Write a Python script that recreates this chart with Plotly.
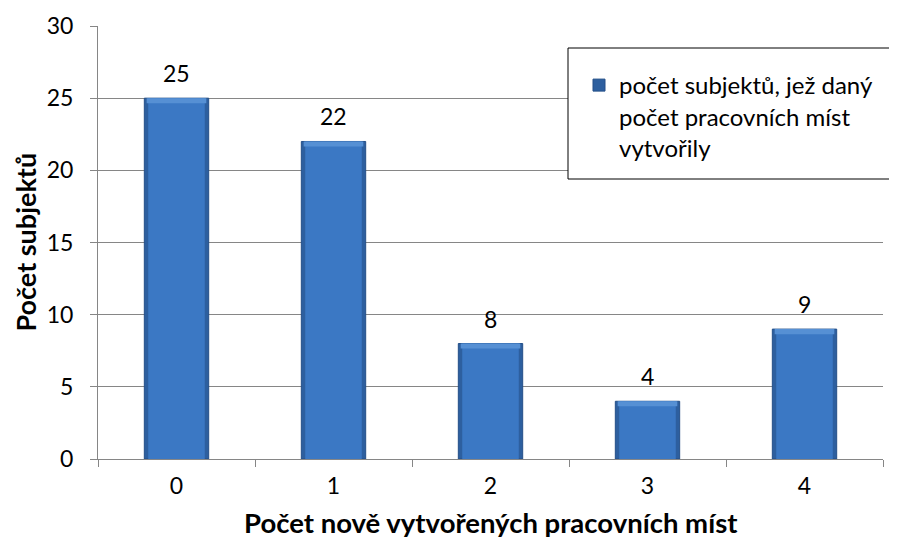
import plotly.graph_objects as go

categories = ["0", "1", "2", "3", "4"]
values = [25, 22, 8, 4, 9]
series_name = "počet subjektů, jež daný<br>počet pracovních míst<br>vytvořily"
y_ticks = [0, 5, 10, 15, 20, 25, 30]
x_title = "Počet nově vytvořených pracovních míst"
y_title = "Počet subjektů"

FONT = "Lato"
W, H = 889, 534
L, R, T, B = 90, 14, 18, 83
PW, PH = W - L - R, H - T - B

def px(x):  # page x -> paper
    return (x - 8 - L) / PW

def py(y):  # page y -> paper
    return (H - B - (y - 8)) / PH

BEVEL = 0.35
fig = go.Figure()
fig.add_trace(go.Bar(
    x=categories, y=values, name=series_name, width=0.41,
    marker=dict(color="#2d5f9f", line=dict(color="#244f88", width=1)),
    showlegend=True,
))
fig.add_trace(go.Bar(
    x=categories, y=values, width=0.36, showlegend=False, hoverinfo="skip",
    marker=dict(color="#3b78c4", line=dict(width=0)),
))
fig.add_trace(go.Bar(
    x=categories, y=[BEVEL] * len(values), base=[v - BEVEL for v in values],
    width=0.38, showlegend=False, hoverinfo="skip",
    marker=dict(color="#5690d4", line=dict(width=0)),
))

for c, v in zip(categories, values):
    fig.add_annotation(x=c, y=v, text=str(v), showarrow=False, yanchor="bottom",
                       yshift=9, font=dict(family=FONT, size=23, color="black"))

fig.add_annotation(xref="paper", yref="paper", x=0.5, y=py(522), xanchor="center",
                   yanchor="middle", showarrow=False, text="<b>" + x_title + "</b>",
                   font=dict(family=FONT, size=27.5, color="black"))
fig.add_annotation(xref="paper", yref="paper", x=px(25), y=0.5, xanchor="center",
                   yanchor="middle", showarrow=False, textangle=-90,
                   text="<b>" + y_title + "</b>",
                   font=dict(family=FONT, size=27, color="black"))

fig.add_shape(type="rect", xref="paper", yref="paper",
              x0=px(568), x1=px(895), y0=py(179), y1=py(48),
              line=dict(color="black", width=1), fillcolor="white", layer="above")

fig.update_layout(
    width=W, height=H,
    margin=dict(l=L, r=R, t=T, b=B, autoexpand=False),
    paper_bgcolor="white", plot_bgcolor="white",
    barmode="overlay",
    font=dict(family=FONT, size=23, color="black"),
    showlegend=True,
    legend=dict(x=px(579), y=py(63), xanchor="left", yanchor="top",
                bgcolor="rgba(0,0,0,0)", borderwidth=0, valign="top",
                font=dict(family=FONT, size=24, color="black")),
    xaxis=dict(
        type="category", showline=True, linecolor="#868686", linewidth=1,
        ticks="outside", tickson="boundaries", ticklen=7, tickcolor="#868686",
        showgrid=False, ticklabelstandoff=6, automargin=False,
        tickfont=dict(family=FONT, size=23),
    ),
    yaxis=dict(
        range=[0, 30], tickvals=y_ticks, showline=True, linecolor="#868686",
        linewidth=1, ticks="outside", ticklen=7, tickcolor="#868686",
        showgrid=True, gridcolor="#868686", gridwidth=1, zeroline=False,
        ticklabelstandoff=12, automargin=False,
        tickfont=dict(family=FONT, size=23),
    ),
)
fig.write_html("out.html")
